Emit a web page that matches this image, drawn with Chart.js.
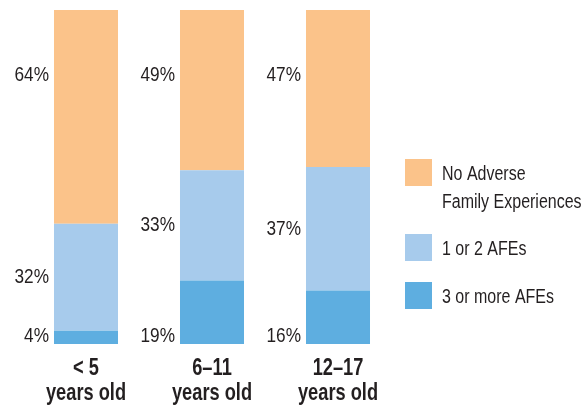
<!DOCTYPE html>
<html lang="en">
<head>
    <meta charset="UTF-8">
    <title>Adverse Family Experiences by Age</title>
    <script src="https://cdn.jsdelivr.net/npm/chart.js"></script>
    <style>
        body { margin: 0; background: #fff; }
    </style>
</head>
<body>
    <canvas id="afeChart" width="584" height="409"></canvas>

    <script>
        // data (percent of children)
        const ageGroups = [['< 5', 'years old'], ['6–11', 'years old'], ['12–17', 'years old']];
        const threeOrMore = [4, 19, 16];
        const oneOrTwo = [32, 33, 37];
        const noAfe = [64, 49, 47];
        const seriesLabels = [['3 or more AFEs'], ['1 or 2 AFEs'], ['No Adverse', 'Family Experiences']];

        const FONT = "'Liberation Sans', 'Arial', sans-serif";
        const TEXT = '#231f20';

        // no condensed font installed, so squeeze the text horizontally
        function narrowText(ctx, text, x, y, squeeze) {
            ctx.save();
            ctx.translate(x, y);
            ctx.scale(squeeze, 1);
            ctx.fillText(text, 0, 0);
            ctx.restore();
        }

        // percent labels to the left of each bar segment
        const segmentLabels = {
            id: 'segmentLabels',
            afterDatasetsDraw(chart) {
                const ctx = chart.ctx;
                const yScale = chart.scales.y;
                ctx.save();
                ctx.font = '21px ' + FONT;
                ctx.fillStyle = TEXT;
                ctx.textAlign = 'right';
                chart.data.datasets.forEach((ds, i) => {
                    const meta = chart.getDatasetMeta(i);
                    meta.data.forEach((bar, j) => {
                        const x = bar.x - bar.width / 2 - 5;
                        let y;
                        if (i === 0) {
                            ctx.textBaseline = 'alphabetic';
                            y = bar.base - 2;
                        } else if (i === 1) {
                            ctx.textBaseline = 'middle';
                            y = (bar.y + bar.base) / 2;
                        } else {
                            ctx.textBaseline = 'middle';
                            y = yScale.getPixelForValue(80.5);
                        }
                        narrowText(ctx, ds.data[j] + '%', x, y, 0.82);
                    });
                });
                ctx.restore();
            }
        };

        // bold category names under the bars
        const categoryLabels = {
            id: 'categoryLabels',
            afterDraw(chart) {
                const ctx = chart.ctx;
                const xScale = chart.scales.x;
                const bottom = chart.chartArea.bottom;
                ctx.save();
                ctx.font = 'bold 24px ' + FONT;
                ctx.fillStyle = TEXT;
                ctx.textAlign = 'center';
                ctx.textBaseline = 'alphabetic';
                chart.data.labels.forEach((lines, j) => {
                    const x = xScale.getPixelForValue(j);
                    lines.forEach((line, k) => {
                        narrowText(ctx, line, x, bottom + 31 + k * 25, 0.76);
                    });
                });
                ctx.restore();
            }
        };

        // legend on the right, top series first
        const sideLegend = {
            id: 'sideLegend',
            afterDraw(chart) {
                const ctx = chart.ctx;
                const left = chart.chartArea.right + 4;
                const tops = [159, 234, 282];
                ctx.save();
                ctx.font = '20px ' + FONT;
                ctx.textBaseline = 'middle';
                ctx.textAlign = 'left';
                const order = [2, 1, 0];
                order.forEach((i, n) => {
                    const ds = chart.data.datasets[i];
                    const top = tops[n];
                    ctx.fillStyle = ds.backgroundColor;
                    ctx.fillRect(left, top, 27, 27);
                    ctx.fillStyle = TEXT;
                    seriesLabels[i].forEach((line, k) => {
                        narrowText(ctx, line, left + 37, top + 15 + k * 28, 0.8);
                    });
                });
                ctx.restore();
            }
        };

        const ctx = document.getElementById('afeChart').getContext('2d');
        const afeChart = new Chart(ctx, {
            type: 'bar',
            data: {
                labels: ageGroups,
                datasets: [
                    { label: seriesLabels[0].join(' '), data: threeOrMore, backgroundColor: '#5eaee0' },
                    { label: seriesLabels[1].join(' '), data: oneOrTwo, backgroundColor: '#a7cbec' },
                    { label: seriesLabels[2].join(' '), data: noAfe, backgroundColor: '#fbc38a' }
                ]
            },
            options: {
                responsive: false,
                animation: false,
                layout: { padding: { left: 23, right: 183, top: 10, bottom: 65 } },
                datasets: {
                    bar: { categoryPercentage: 1, barPercentage: 0.508, borderWidth: 0 }
                },
                scales: {
                    x: { stacked: true, display: false },
                    y: { stacked: true, display: false, min: 0, max: 100 }
                },
                plugins: {
                    legend: { display: false },
                    tooltip: { enabled: false }
                }
            },
            plugins: [segmentLabels, categoryLabels, sideLegend]
        });
    </script>
</body>
</html>
